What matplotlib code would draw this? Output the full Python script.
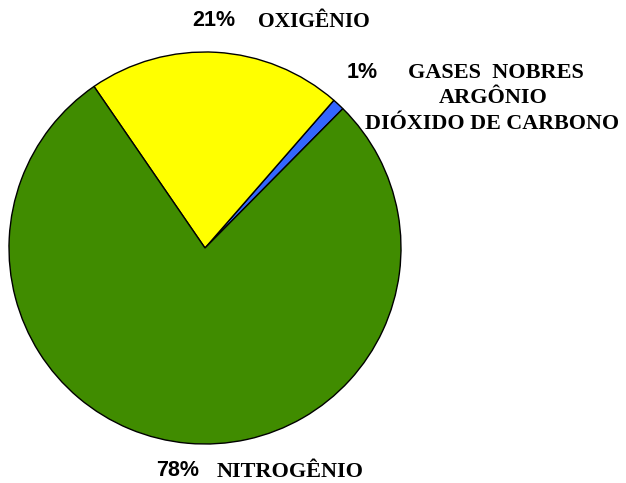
import matplotlib
matplotlib.use("Agg")
import matplotlib.pyplot as plt

# composição do ar (%)
gases   = ["GASES NOBRES", "OXIGÊNIO", "NITROGÊNIO"]
valores = [1, 21, 78]
cores   = ["#3366FF", "#FFFF00", "#408C00"]

SERIF = ["Liberation Serif", "DejaVu Serif"]
SANS  = ["Liberation Sans", "DejaVu Sans"]

fig = plt.figure(figsize=(6.26, 4.83), dpi=100)
ax = fig.add_axes([0, 0, 1, 1])

# pixel coordinates, y up
ax.pie(valores, colors=cores, startangle=45.3, counterclock=True,
       center=(205, 235), radius=196,
       wedgeprops={"edgecolor": "black", "linewidth": 1.0})
ax.set_xlim(0, 626)
ax.set_ylim(0, 483)
ax.set_aspect("auto")
ax.axis("off")

H = 483
def lbl(x, y, s, fam, size=16, ha="left"):
    ax.text(x, H - y, s, family=fam, fontweight="bold", fontsize=size,
            ha=ha, va="center", color="black")

lbl(192, 21, "21%", SANS, 15.5)
lbl(258, 22, "OXIGÊNIO", SERIF, 15.5)

lbl(347, 72, "1%", SANS, 15.5)
lbl(408, 73, "GASES  NOBRES", SERIF)
lbl(493, 98, "ARGÔNIO", SERIF, ha="center")
lbl(365, 124, "DIÓXIDO DE CARBONO", SERIF, 15.8)

lbl(156, 471, "78%", SANS, 15.5)
lbl(217, 472, "NITROGÊNIO", SERIF)

fig.savefig("out.png", dpi=100)
